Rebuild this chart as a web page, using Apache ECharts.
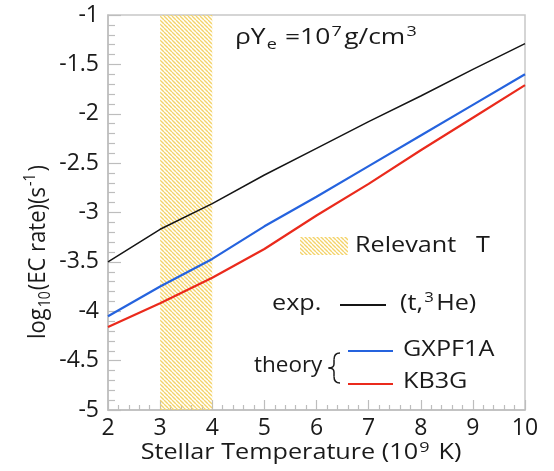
<!DOCTYPE html>
<html>
<head>
<meta charset="utf-8">
<script src="https://cdn.jsdelivr.net/npm/echarts@6/dist/echarts.min.js"></script>
<style>
  html, body { margin: 0; padding: 0; background: #fff; }
  #chart { width: 554px; height: 471px; }
</style>
</head>
<body>
<div id="chart"></div>
<script>
// Stellar temperature in units of 10^9 K
const temperatures = [2, 3, 4, 5, 6, 7, 8, 9, 10];
// log10 of electron-capture rate (s^-1)
const expRate     = [-3.50, -3.17, -2.91, -2.62, -2.35, -2.08, -1.82, -1.55, -1.29];
const gxpf1aRate  = [-4.05, -3.75, -3.47, -3.14, -2.84, -2.53, -2.22, -1.91, -1.60];
const kb3gRate    = [-4.16, -3.92, -3.66, -3.37, -3.03, -2.71, -2.37, -2.04, -1.71];
// Relevant temperature window
const relevantT = [3, 4];

const FONT = '"Open Sans", "Noto Sans", sans-serif';
const INK = '#1a1a1a';
const WIDE = 1.2;   // horizontal stretch of annotation text

function pairs(ys) { return temperatures.map((t, i) => [t, ys[i]]); }

// diagonal yellow hatching
function hatch() {
  const s = 4;
  const c = document.createElement('canvas');
  c.width = s; c.height = s;
  const g = c.getContext('2d');
  g.strokeStyle = '#f4d36a';
  g.lineWidth = 1.35;
  for (const x0 of [-s, 0, s]) {
    g.beginPath();
    g.moveTo(x0, 0);
    g.lineTo(x0 + s, s);
    g.stroke();
  }
  return { image: c, repeat: 'repeat' };
}
const hatchFill = hatch();

// rich-text styles for sub/superscripts
function scripts(size) {
  return {
    sub: { fontFamily: FONT, fontSize: size, lineHeight: size, verticalAlign: 'bottom', fill: INK, padding: [0, 1, 0, 1] },
    sup: { fontFamily: FONT, fontSize: size, lineHeight: size, verticalAlign: 'top', fill: INK, padding: [0, 2, 0, 1] }
  };
}

function label(x, y, text, opts) {
  const o = opts || {};
  const size = o.size || 21;
  return {
    type: 'text', x: x, y: y, scaleX: o.scaleX || WIDE, scaleY: o.scaleY || 1,
    rotation: o.rotation || 0,
    style: {
      text: text, fontFamily: FONT, fontSize: size, lineHeight: o.lineHeight || 26,
      fill: INK, align: o.align || 'left', verticalAlign: 'middle',
      rich: scripts(o.script || 14)
    }
  };
}

// curly brace for the theory group, built from curve pieces
const braceStroke = { stroke: INK, lineWidth: 1.5, fill: null };
function curve(x1, y1, cpx1, cpy1, cpx2, cpy2, x2, y2) {
  return { type: 'bezierCurve', shape: { x1, y1, cpx1, cpy1, cpx2, cpy2, x2, y2 }, style: braceStroke };
}
function seg(x1, y1, x2, y2) {
  return { type: 'line', shape: { x1, y1, x2, y2 }, style: braceStroke };
}
const brace = [
  curve(340, 353, 335.5, 353, 334, 355.5, 334, 359.5),
  seg(334, 359.5, 334, 364),
  curve(334, 364, 334, 367, 332, 368, 328.5, 368),
  curve(328.5, 368, 332, 368, 334, 369, 334, 372),
  seg(334, 372, 334, 376.5),
  curve(334, 376.5, 334, 380.5, 335.5, 383, 340, 383)
];

const chart = echarts.init(document.getElementById('chart'), null, { renderer: 'canvas' });

chart.setOption({
  animation: false,
  backgroundColor: '#fff',
  grid: { left: 108, right: 29, top: 15, bottom: 61, show: true, borderColor: '#c8c8c8', borderWidth: 1.5 },
  xAxis: {
    type: 'value', min: 2, max: 10, interval: 1,
    axisLine: { lineStyle: { color: '#bdbdbd', width: 1.5 } },
    axisTick: { inside: true, length: 10, lineStyle: { color: '#bdbdbd', width: 1.2 } },
    minorTick: { show: true, splitNumber: 5, length: 5, lineStyle: { color: '#bdbdbd', width: 1.2 } },
    splitLine: { show: false },
    axisLabel: { fontFamily: FONT, fontSize: 23, color: INK, margin: 7 }
  },
  yAxis: {
    type: 'value', min: -5, max: -1, interval: 0.5,
    axisLine: { lineStyle: { color: '#bdbdbd', width: 1.5 } },
    axisTick: { inside: true, length: 13, lineStyle: { color: '#bdbdbd', width: 1.2 } },
    minorTick: { show: true, splitNumber: 5, length: 7, lineStyle: { color: '#bdbdbd', width: 1.2 } },
    splitLine: { show: false },
    axisLabel: { fontFamily: FONT, fontSize: 23, color: INK, margin: 9 }
  },
  series: [
    {
      name: '(t,3He)', type: 'line', data: pairs(expRate), z: 2,
      symbol: 'none', lineStyle: { color: '#151515', width: 1.5 }
    },
    {
      name: 'GXPF1A', type: 'line', data: pairs(gxpf1aRate), z: 2,
      symbol: 'none', lineStyle: { color: '#2563de', width: 2.2 }
    },
    {
      name: 'KB3G', type: 'line', data: pairs(kb3gRate), z: 2,
      symbol: 'none', lineStyle: { color: '#ea2a1c', width: 2.2 }
    },
    {
      name: 'Relevant T', type: 'line', data: [], z: 5,
      markArea: {
        silent: true,
        itemStyle: { color: hatchFill },
        data: [[{ xAxis: relevantT[0] }, { xAxis: relevantT[1] }]]
      }
    }
  ],
  graphic: [
    // axis titles
    label(301, 453, 'Stellar Temperature (10{sup|9} K)', { size: 21, align: 'center', script: 15 }),
    label(38, 252, 'log{sub|10}(EC rate)(s{sup|-1})', { size: 22, align: 'center', rotation: Math.PI / 2, scaleX: 1, scaleY: 1.1, script: 14, lineHeight: 28 }),
    // density note
    label(235, 38, 'ρY{sub|e} =10{sup|7}g/cm{sup|3}', { size: 22, script: 15, lineHeight: 28 }),
    // Relevant T key
    { type: 'rect', shape: { x: 300, y: 237, width: 48, height: 18 }, style: { fill: hatchFill } },
    label(355, 246, 'Relevant   T'),
    // experimental key
    label(272, 304, 'exp.'),
    { type: 'line', shape: { x1: 340, y1: 305, x2: 386, y2: 305 }, style: { stroke: '#151515', lineWidth: 2 } },
    label(400, 304, '(t,{sup|3}He)'),
    // theory key
    label(254, 366, 'theory', { scaleX: 1.07 }),
    ...brace,
    { type: 'line', shape: { x1: 348, y1: 351, x2: 393, y2: 351 }, style: { stroke: '#2563de', lineWidth: 2.2 } },
    { type: 'line', shape: { x1: 348, y1: 384, x2: 393, y2: 384 }, style: { stroke: '#ea2a1c', lineWidth: 2.2 } },
    label(403, 350, 'GXPF1A'),
    label(403, 382, 'KB3G')
  ]
});
</script>
</body>
</html>
